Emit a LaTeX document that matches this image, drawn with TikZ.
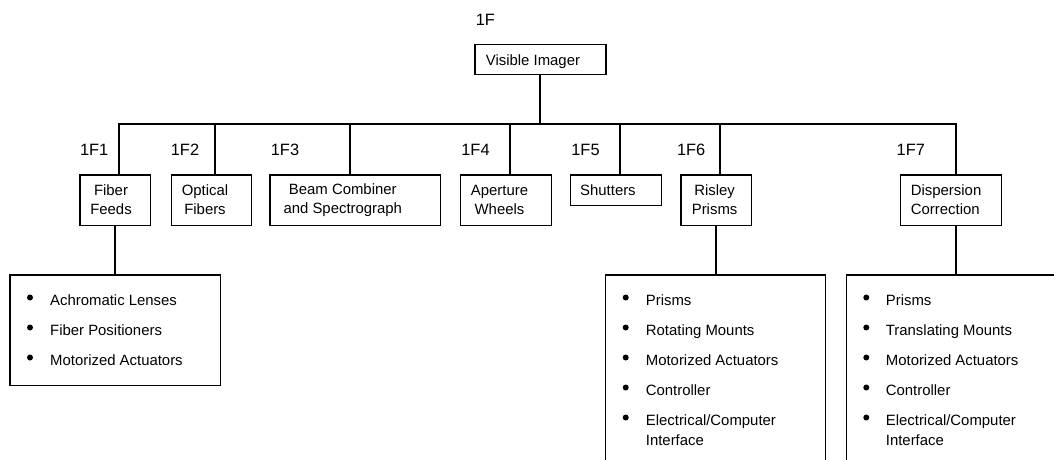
\documentclass[tikz,border=0pt]{standalone}
\usepackage{fontspec}
\setmainfont{Liberation Sans}
\newcommand\MyBox[5]{\node[box, minimum width={(#4-#2)*1pt}, minimum height={(#5-#3)*1pt}] (#1) at (#2,#3) {};}
\begin{document}
\begin{tikzpicture}[x=1pt,y=-1pt,
  box/.style={draw, line width=1.2pt, inner sep=0pt, anchor=north west},
  conn/.style={line width=2pt},
  btext/.style={font=\fontsize{14.9}{19.4}\selectfont, inner sep=0pt},
  lbl/.style={font=\fontsize{16.4}{20}\selectfont, inner sep=0pt, anchor=base},
  dot/.style={circle, fill, inner sep=0pt, minimum size=6pt},
  itm/.style={font=\fontsize{14.9}{20}\selectfont, inner sep=0pt, anchor=base west, align=left}]
\useasboundingbox (0,0) rectangle (1054,460);
\clip (0,0) rectangle (1054,460);

% boxes
\MyBox{vi}{474.3}{44.3}{605.3}{74}
\MyBox{ff}{79.3}{174.3}{150}{225}
\MyBox{of}{170.7}{174.3}{250.7}{224.5}
\MyBox{bc}{269.3}{174.3}{440}{225}
\MyBox{aw}{460}{174.3}{550.7}{225}
\MyBox{sh}{570}{174.3}{660.7}{205}
\MyBox{rp}{680.3}{174.3}{750.7}{225}
\MyBox{dc}{900}{174.3}{1000.5}{225}
\MyBox{ffl}{9.3}{274.3}{220}{385}
\MyBox{rpl}{605}{274.3}{825}{500}
\MyBox{dcl}{845.7}{274.3}{1066}{500}

% box texts (multi-line nodes: base anchor = last line's baseline)
\node[btext, anchor=base west] (vi-t) at (485.7,65.7) {Visible Imager};
\node[btext, anchor=base, align=center] (ff-t) at (111,214.7) {Fiber\\Feeds};
\node[btext, anchor=base, align=center] (of-t) at (205,214.7) {Optical\\Fibers};
\node[btext, anchor=base, align=center] (bc-t) at (342.8,213.5) {Beam Combiner\\and Spectrograph};
\node[btext, anchor=base, align=center] (aw-t) at (499.5,214.7) {Aperture\\Wheels};
\node[btext, anchor=base west] (sh-t) at (580,195.3) {Shutters};
\node[btext, anchor=base, align=center] (rp-t) at (714.6,214.7) {Risley\\Prisms};
\node[btext, anchor=base west, align=left] (dc-t) at (910.7,214.7) {Dispersion\\Correction};

% labels
\node[lbl] (l1F) at (485.4,25.7) {1F};
\node[lbl] (l1F1) at (94.2,155.7) {1F1};
\node[lbl] (l1F2) at (185,155.7) {1F2};
\node[lbl] (l1F3) at (285,155.7) {1F3};
\node[lbl] (l1F4) at (475.5,155.7) {1F4};
\node[lbl] (l1F5) at (585.5,155.7) {1F5};
\node[lbl] (l1F6) at (691.2,155.7) {1F6};
\node[lbl] (l1F7) at (910.8,155.7) {1F7};

% bus
\coordinate (bus1) at (119.3,124.3);
\coordinate (bus2) at (215,124.3);
\coordinate (bus3) at (350,124.3);
\coordinate (bus4) at (510,124.3);
\coordinate (bus5) at (620,124.3);
\coordinate (bus6) at (720,124.3);
\coordinate (bus7) at (955.7,124.3);

\draw[conn] (vi.south) -- (vi.south |- bus1);
\draw[conn] (bus1 |- ff.north) -- (bus1) -- (bus7) -- (bus7 |- dc.north);
\draw[conn] (bus2) -- (bus2 |- of.north);
\draw[conn] (bus3) -- (bus3 |- bc.north);
\draw[conn] (bus4) -- (bus4 |- aw.north);
\draw[conn] (bus5) -- (bus5 |- sh.north);
\draw[conn] (bus6) -- (bus6 |- rp.north);

\draw[conn] (ff.south) -- (ff.south |- ffl.north);
\draw[conn] (rp.south) -- (rp.south |- rpl.north);
\draw[conn] (dcl.north |- dc.south) -- (dcl.north);

% lists
\foreach \t/\yy [count=\i] in {Achromatic Lenses/305.7, Fiber Positioners/335.7, Motorized Actuators/365.7}{
  \node[dot] (fd\i) at (30,{297.5+30*(\i-1)}) {};
  \node[itm] (fi\i) at (50,\yy) {\t};
}
\foreach \t/\yy [count=\i] in {Prisms/305.7, Rotating Mounts/335.7, Motorized Actuators/365.7, Controller/395.7, {Electrical/Computer\\Interface}/445.7}{
  \node[dot] (rd\i) at (625.7,{297.5+30*(\i-1)}) {};
  \node[itm] (ri\i) at (645.7,\yy) {\t};
}
\foreach \t/\yy [count=\i] in {Prisms/305.7, Translating Mounts/335.7, Motorized Actuators/365.7, Controller/395.7, {Electrical/Computer\\Interface}/445.7}{
  \node[dot] (dd\i) at (866.3,{297.5+30*(\i-1)}) {};
  \node[itm] (di\i) at (885.7,\yy) {\t};
}
\end{tikzpicture}
\end{document}
